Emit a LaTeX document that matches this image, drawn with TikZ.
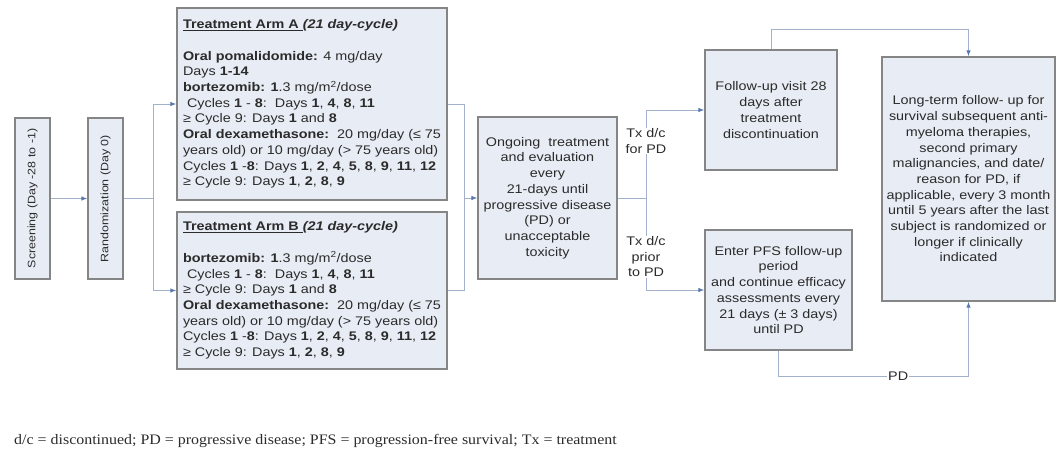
\documentclass[tikz,border=0pt]{standalone}
\usepackage{fontspec}
\setmainfont{Liberation Sans}[FakeStretch=1.15]
\newfontfamily\notefont{Liberation Serif}[FakeStretch=1.1]
\usetikzlibrary{arrows.meta}

\definecolor{boxfill}{HTML}{E8EDF5}
\definecolor{boxdraw}{HTML}{858585}
\definecolor{linkcol}{HTML}{A3B1CC}
\definecolor{tipcol}{HTML}{5A78B0}
\definecolor{txt}{HTML}{2B2B2B}
\newcommand{\dn}[1]{\textbf{#1}}

\begin{document}
\begin{tikzpicture}[x=1pt,y=-1pt,
  box/.style={draw=boxdraw,line width=1.3pt,fill=boxfill,text=txt,
    font=\fontsize{12.5}{15.7}\selectfont,inner sep=2pt},
  upbox/.style={box,rotate=90,minimum width=161,minimum height=35,
    font=\fontsize{10.8}{13}\selectfont},
  line/.style={draw=linkcol,line width=0.9pt},
  arr/.style={line,-{Latex[length=6pt,width=4.5pt,color=tipcol]}},
  lbl/.style={fill=white,text=txt,font=\fontsize{12.5}{15.5}\selectfont,
    align=center,inner sep=1pt}]

  \useasboundingbox (0,0) rectangle (1057,453);

  % start of the study
  \node[upbox] (screen) at (32.5,198.5) {Screening (Day -28 to -1)};
  \node[upbox] (rand) at (105.5,198.5) {Randomization (Day 0)};

  % the two arms
  \node[box,minimum width=270,minimum height=192,align=left] (armA) at (312,104)
    {\underline{\textbf{Treatment Arm A\ }}\textbf{\textit{(21 day-cycle)}}\\[15.7pt]
     \textbf{Oral pomalidomide:} 4 mg/day\\
     Days \dn{1-14}\\
     \textbf{bortezomib:} \dn{1}.3 mg/m\textsuperscript{2}/dose\\
     \ Cycles \dn{1} - \dn{8}:\ \ Days \dn{1}, \dn{4}, \dn{8}, \dn{11}\\
     ≥ Cycle 9: Days \dn{1} and \dn{8}\\
     \textbf{Oral dexamethasone:}\ \ 20 mg/day (≤ 75\\
     years old) or 10 mg/day (> 75 years old)\\
     Cycles \dn{1} -\dn{8}: Days \dn{1}, \dn{2}, \dn{4}, \dn{5}, \dn{8}, \dn{9}, \dn{11}, \dn{12}\\
     ≥ Cycle 9: Days \dn{1}, \dn{2}, \dn{8}, \dn{9}};
  \node[box,minimum width=270,minimum height=157,align=left] (armB) at (312,290.5)
    {\underline{\textbf{Treatment Arm B\ }}\textbf{\textit{(21 day-cycle)}}\\[15.7pt]
     \textbf{bortezomib:} \dn{1}.3 mg/m\textsuperscript{2}/dose\\
     \ Cycles \dn{1} - \dn{8}:\ \ Days \dn{1}, \dn{4}, \dn{8}, \dn{11}\\
     ≥ Cycle 9: Days \dn{1} and \dn{8}\\
     \textbf{Oral dexamethasone:}\ \ 20 mg/day (≤ 75\\
     years old) or 10 mg/day (> 75 years old)\\
     Cycles \dn{1} -\dn{8}: Days \dn{1}, \dn{2}, \dn{4}, \dn{5}, \dn{8}, \dn{9}, \dn{11}, \dn{12}\\
     ≥ Cycle 9: Days \dn{1}, \dn{2}, \dn{8}, \dn{9}};

  \node[box,minimum width=139,minimum height=162,align=center] (ongoing) at (547.5,198)
    {Ongoing\ \ treatment\\and evaluation\\every\\21-days until\\progressive disease\\(PD) or\\unacceptable\\toxicity};

  % follow-up
  \node[box,minimum width=132,minimum height=120,align=center] (visit) at (771,110)
    {Follow-up visit 28\\days after\\treatment\\discontinuation};
  \node[box,minimum width=147,minimum height=120,align=center] (pfs) at (778.5,290)
    {Enter PFS follow-up\\period\\and continue efficacy\\assessments every\\21 days (± 3 days)\\until PD};
  \node[box,minimum width=173,minimum height=244,align=center] (longterm) at (968.5,179)
    {Long-term follow- up for\\survival subsequent anti-\\myeloma therapies,\\second primary\\malignancies, and date/\\reason for PD, if\\applicable, every 3 month\\until 5 years after the last\\subject is randomized or\\longer if clinically\\indicated};

  % junctions
  \coordinate (jL) at (153,198.5);
  \coordinate (jM) at (464,198);
  \coordinate (jR) at (646,198);

  \draw[arr] (screen) -- (rand);
  \draw[line] (rand) -- (jL);
  \draw[arr] (jL) |- (armA);
  \draw[arr] (jL) |- (armB);
  \draw[line] (armA) -| (jM);
  \draw[line] (armB) -| (jM);
  \draw[arr] (jM) -- (ongoing);
  \draw[line] (ongoing) -- (jR);
  \draw[arr] (jR) |- (visit);
  \draw[arr] (jR) |- (pfs);
  \draw[arr] (visit.north) -- ++(0,-20) -| (longterm.north);
  \draw[arr] (pfs.south) -- ++(0,26) -| node[lbl,pos=0.315] (pdlbl) {PD} (longterm.south);

  \node[lbl] (txpd) at (646,141) {Tx d/c\\for PD};
  \node[lbl] (txprior) at (646,257) {Tx d/c\\prior\\to PD};

  \node[anchor=west,inner sep=0pt,text=txt,font=\notefont\fontsize{14.5}{16}\selectfont] (note) at (14,441)
    {d/c = discontinued; PD = progressive disease; PFS = progression-free survival; Tx = treatment};
\end{tikzpicture}
\end{document}
